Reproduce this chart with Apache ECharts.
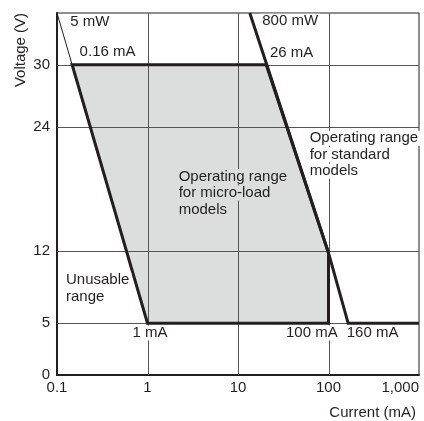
<!DOCTYPE html>
<html><head><meta charset="utf-8">
<script src="https://cdn.jsdelivr.net/npm/echarts@6/dist/echarts.min.js"></script>
<style>html,body{margin:0;padding:0;background:#fff}#c{width:424px;height:421px}</style>
</head><body><div id="c"></div>
<script>
// ---- data ----
const xTicks = [0.1, 1, 10, 100, 1000];
const xTickLabels = ['0.1', '1', '10', '100', '1,000'];
const yTicks = [0, 5, 12, 24, 30];
const gridX = [1, 10, 100];
const gridY = [5, 12, 24, 30];
// micro-load operating range polygon (current mA, voltage V)
const microX = [0.147, 20.5, 100, 100, 1];
const microY = [30, 30, 11.8, 5, 5];
// standard models boundary (800 mW line then 5 V floor)
const standardX = [13.5, 100, 165, 1000];
const standardY = [35, 11.8, 5, 5];
// 5 mW line above 30 V
const fiveMwX = [0.1, 0.147];
const fiveMwY = [35, 30];
// annotations
const annoText = ['5 mW', '0.16 mA', '800 mW', '26 mA',
  'Operating range\nfor standard\nmodels',
  'Operating range\nfor micro-load\nmodels',
  'Unusable\nrange', '1 mA', '100 mA', '160 mA'];
const annoX = [0.133, 0.169, 17.6, 21.4, 58.9, 2.10, 0.1195, 1.066, 133, 151];
const annoY = [34.1, 31.2, 34.2, 31.1, 21.3, 17.6, 8.37, 4.05, 4.05, 4.05];
const annoAlign = ['left', 'left', 'left', 'left', 'left', 'left', 'left', 'center', 'right', 'left'];

const INK = '#231f20';
const FILL = '#dcdddd';
const GRID = '#555';
const FONT = '"Liberation Sans", Arial, sans-serif';

const chart = echarts.init(document.getElementById('c'), null, {renderer: 'canvas'});

const pts = (xs, ys) => xs.map((x, i) => [x, ys[i]]);

function richText(t, key) {
  return t.split('\n').map(l => '{' + key + '|' + l + '}').join('\n');
}

const annoData = annoText.map((t, i) => [annoX[i], annoY[i], i]);

const option = {
  animation: false,
  grid: {left: 57, right: 5, top: 13, bottom: 46, show: true, borderColor: INK, borderWidth: 1, backgroundColor: 'transparent'},
  xAxis: {
    type: 'log', logBase: 10, min: 0.1, max: 1000,
    axisLine: {show: true, lineStyle: {color: INK, width: 2}},
    axisTick: {show: false},
    splitLine: {show: false},
    axisLabel: {
      color: INK, fontSize: 15, fontFamily: FONT, margin: 5,
      alignMaxLabel: 'right',
      formatter: v => {
        const i = xTicks.findIndex(t => Math.abs(Math.log10(t) - Math.log10(v)) < 1e-6);
        return i >= 0 ? xTickLabels[i] : '';
      }
    }
  },
  yAxis: {
    type: 'value', min: 0, max: 35, interval: 1,
    axisLine: {show: true, lineStyle: {color: INK, width: 2}},
    axisTick: {show: false},
    splitLine: {show: false},
    axisLabel: {
      color: INK, fontSize: 15, fontFamily: FONT, margin: 7,
      formatter: v => yTicks.indexOf(Math.round(v * 1000) / 1000) >= 0 ? String(v) : ''
    }
  },
  graphic: [
    {type: 'text', x: 20.5, y: 50, rotation: Math.PI / 2,
     style: {text: 'Voltage (V)', align: 'center', verticalAlign: 'middle', font: '15px ' + FONT, fill: INK}},
    {type: 'text', right: 8, top: 405,
     style: {text: 'Current (mA)', font: '15px ' + FONT, fill: INK}}
  ],
  series: [
    {
      // micro-load fill
      type: 'custom', z: 1, silent: true,
      data: [[1, 5]],
      renderItem: (params, api) => ({
        type: 'polygon',
        shape: {points: microX.map((x, i) => api.coord([x, microY[i]]))},
        style: {fill: FILL, stroke: null}
      })
    },
    {
      // grid lines
      type: 'custom', z: 2, silent: true,
      data: [[1, 5]],
      renderItem: (params, api) => {
        const cs = params.coordSys;
        const children = [];
        gridY.forEach(v => {
          const p = api.coord([1, v]);
          const y = Math.round(p[1]) + 0.5;
          children.push({type: 'line', shape: {x1: cs.x, y1: y, x2: cs.x + cs.width, y2: y},
            style: {stroke: GRID, lineWidth: 1}});
        });
        gridX.forEach(v => {
          const p = api.coord([v, 5]);
          const x = Math.round(p[0]) + 0.5;
          children.push({type: 'line', shape: {x1: x, y1: cs.y, x2: x, y2: cs.y + cs.height},
            style: {stroke: GRID, lineWidth: 1}});
        });
        return {type: 'group', children};
      }
    },
    {
      type: 'line', z: 3, silent: true, showSymbol: false,
      data: pts(fiveMwX, fiveMwY),
      lineStyle: {color: INK, width: 1}
    },
    {
      type: 'custom', z: 5, silent: true,
      data: [[1, 5]],
      renderItem: (params, api) => ({
        type: 'polygon',
        shape: {points: microX.map((x, i) => api.coord([x, microY[i]]))},
        style: {fill: null, stroke: INK, lineWidth: 3, lineJoin: 'miter'}
      })
    },
    {
      type: 'line', z: 5, silent: true, showSymbol: false,
      data: pts(standardX, standardY),
      lineStyle: {color: INK, width: 3, join: 'miter'}
    },
    {
      // annotations
      type: 'custom', z: 10, silent: true,
      data: annoData,
      renderItem: (params, api) => {
        const i = api.value(2);
        const p = api.coord([api.value(0), api.value(1)]);
        const key = (i === 5) ? 'g' : 'w';
        return {
          type: 'text', x: p[0], y: p[1],
          style: {
            text: richText(annoText[i], key),
            align: annoAlign[i], verticalAlign: 'middle',
            fill: INK, font: '15px ' + FONT,
            rich: {
              w: {fontSize: 15, fontFamily: FONT, fill: INK, lineHeight: 16.5, backgroundColor: '#fff', padding: [0, 2]},
              g: {fontSize: 15, fontFamily: FONT, fill: INK, lineHeight: 16.5, backgroundColor: FILL, padding: [0, 2]}
            }
          }
        };
      }
    }
  ]
};
chart.setOption(option);
</script>
</body></html>
